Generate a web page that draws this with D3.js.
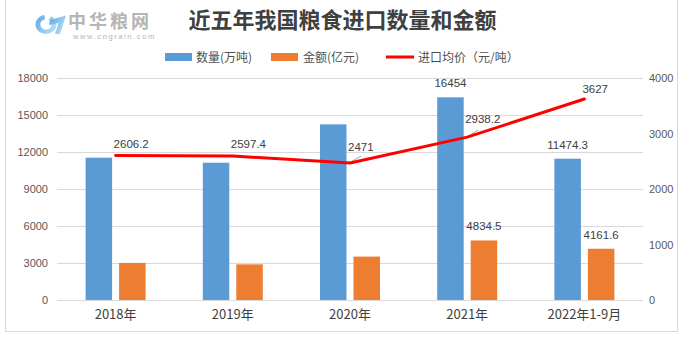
<!DOCTYPE html>
<html><head><meta charset="utf-8">
<script src="https://cdn.jsdelivr.net/npm/d3@7/dist/d3.min.js"></script>
<style>html,body{margin:0;padding:0;background:#fff;}svg{display:block;}</style>
</head><body>
<svg id="chart" width="685" height="344"></svg>
<script>
// ---- data ----
const categories = ["2018年", "2019年", "2020年", "2021年", "2022年1-9月"];
const quantity = [11555, 11144, 14262, 16454, 11474.3];      // 数量(万吨)
const amount = [3011.5, 2894.5, 3524.1, 4834.5, 4161.6];     // 金额(亿元)
const price = [2606.2, 2597.4, 2471, 2938.2, 3627];          // 进口均价（元/吨）
const quantityLabels = ["", "", "", "16454", "11474.3"];
const amountLabels = ["", "", "", "4834.5", "4161.6"];
const priceLabels = ["2606.2", "2597.4", "2471", "2938.2", "3627"];
const leftTicks = [0, 3000, 6000, 9000, 12000, 15000, 18000];
const rightTicks = [0, 1000, 2000, 3000, 4000];

// ---- layout / style ----
const priceLabelDy = [-8, -8, -12, -14, -6];
const blue = "#5b9bd5", orange = "#ed7d31", red = "#ff0000";
const numFont = "'Liberation Sans', Arial, sans-serif";
const cjkFont = "'Noto Sans CJK SC', 'Noto Sans', sans-serif";

const svg = d3.select("#chart");

// border
svg.append("rect").attr("x", 5.5).attr("y", -2).attr("width", 672).attr("height", 333.5)
  .attr("fill", "none").attr("stroke", "#d9d9d9").attr("stroke-width", 1);

// logo
const logo = svg.append("g");
const defs = svg.append("defs");
const lg = defs.append("linearGradient").attr("id", "lg").attr("x1", 0).attr("y1", 0).attr("x2", 1).attr("y2", 0.6);
lg.append("stop").attr("offset", "0%").attr("stop-color", "#5aa8e6");
lg.append("stop").attr("offset", "100%").attr("stop-color", "#b3dcf7");
const arc = d3.arc().innerRadius(5.5).outerRadius(10).startAngle(0.5).endAngle(2 * Math.PI - 0.15);
logo.append("path").attr("d", arc()).attr("transform", "translate(46,24.5) scale(1.05,0.95)").attr("fill", "url(#lg)");
logo.append("path").attr("d", "M50,20 L66,15.5 L60,34 L55,34 L58.5,23 L49,25 Z").attr("fill", "url(#lg)");
logo.append("text").attr("x", 68).attr("y", 27.5).attr("font-family", cjkFont).attr("font-size", 18)
  .attr("font-weight", "bold").attr("letter-spacing", 3).attr("fill", "#b5b5b5").text("中华粮网");
logo.append("text").attr("x", 73).attr("y", 38.5).attr("font-family", numFont).attr("font-size", 7.5)
  .attr("letter-spacing", 1.6).attr("fill", "#b5b5b5").text("www.cngrain.com");

// title
svg.append("text").attr("x", 342.5).attr("y", 28).attr("text-anchor", "middle")
  .attr("font-family", cjkFont).attr("font-size", 22).attr("font-weight", "bold")
  .attr("fill", "#404040").text("近五年我国粮食进口数量和金额");

// legend
const legend = svg.append("g").attr("font-family", cjkFont).attr("font-size", 12).attr("fill", "#505050");
legend.append("rect").attr("x", 165).attr("y", 53).attr("width", 27).attr("height", 8).attr("fill", blue);
legend.append("text").attr("x", 196).attr("y", 61.5).text("数量(万吨)");
legend.append("rect").attr("x", 271).attr("y", 53).attr("width", 27).attr("height", 8).attr("fill", orange);
legend.append("text").attr("x", 303).attr("y", 61.5).text("金额(亿元)");
legend.append("line").attr("x1", 386).attr("x2", 414).attr("y1", 57).attr("y2", 57)
  .attr("stroke", red).attr("stroke-width", 3);
legend.append("text").attr("x", 418).attr("y", 61.5).text("进口均价（元/吨）");

// scales
const x = d3.scaleBand().domain(categories).range([57, 643]).padding(0);
const yL = d3.scaleLinear().domain([0, 18000]).range([300, 78.3]);
const yR = d3.scaleLinear().domain([0, 4000]).range([300, 78.3]);
const cx = c => x(c) + x.bandwidth() / 2;

// gridlines
svg.append("g").selectAll("line").data(leftTicks).join("line")
  .attr("x1", 57).attr("x2", 643).attr("y1", d => Math.round(yL(d)) + 0.5).attr("y2", d => Math.round(yL(d)) + 0.5)
  .attr("stroke", "#d9d9d9").attr("stroke-width", 1);

// left axis
const axL = svg.append("g").attr("transform", "translate(50,0)")
  .call(d3.axisLeft(yL).tickValues(leftTicks).tickSize(0).tickPadding(2).tickFormat(d3.format("d")));
axL.select(".domain").remove();
axL.selectAll("text").attr("font-family", numFont).attr("font-size", 11).attr("fill", "#595959");

// right axis
const axR = svg.append("g").attr("transform", "translate(647,0)")
  .call(d3.axisRight(yR).tickValues(rightTicks).tickSize(0).tickPadding(2).tickFormat(d3.format("d")));
axR.select(".domain").remove();
axR.selectAll("text").attr("font-family", numFont).attr("font-size", 11).attr("fill", "#595959");

// bottom axis labels
const axB = svg.append("g").attr("transform", "translate(0,300)")
  .call(d3.axisBottom(x).tickSize(0).tickPadding(10));
axB.select(".domain").remove();
axB.selectAll("text").attr("font-family", cjkFont).attr("font-size", 13).attr("fill", "#404040");

// bars
const bw = 26.5;
svg.append("g").selectAll("rect").data(quantity).join("rect")
  .attr("x", (d, i) => cx(categories[i]) - 30).attr("width", bw)
  .attr("y", d => yL(d)).attr("height", d => yL(0) - yL(d)).attr("fill", blue);
svg.append("g").selectAll("rect").data(amount).join("rect")
  .attr("x", (d, i) => cx(categories[i]) + 3.5).attr("width", bw)
  .attr("y", d => yL(d)).attr("height", d => yL(0) - yL(d)).attr("fill", orange);

// bar labels
const labelG = svg.append("g").attr("font-family", numFont).attr("font-size", 11.5).attr("fill", "#404040");
labelG.selectAll("text.q").data(quantity).join("text").attr("class", "q")
  .attr("x", (d, i) => cx(categories[i]) - 30 + bw / 2).attr("y", d => yL(d) - 10)
  .attr("text-anchor", "middle").text((d, i) => quantityLabels[i]);
labelG.selectAll("text.a").data(amount).join("text").attr("class", "a")
  .attr("x", (d, i) => cx(categories[i]) + 3.5 + bw / 2).attr("y", d => yL(d) - 10)
  .attr("text-anchor", "middle").text((d, i) => amountLabels[i]);

// leader lines (faint)
[2, 3].forEach(i => {
  const px = cx(categories[i]), py = yR(price[i]);
  svg.append("line").attr("x1", px + 1).attr("y1", py - 1).attr("x2", px + 11).attr("y2", py - 7)
    .attr("stroke", "#a6a6a6").attr("stroke-width", 1);
});

// price line
const line = d3.line().x((d, i) => cx(categories[i])).y(d => yR(d));
svg.append("path").datum(price).attr("d", line).attr("fill", "none")
  .attr("stroke", red).attr("stroke-width", 3).attr("stroke-linejoin", "round").attr("stroke-linecap", "round");

// price labels
labelG.selectAll("text.p").data(price).join("text").attr("class", "p")
  .attr("x", (d, i) => cx(categories[i]) - 2).attr("y", (d, i) => yR(d) + priceLabelDy[i])
  .text((d, i) => priceLabels[i]);
</script>
</body></html>
